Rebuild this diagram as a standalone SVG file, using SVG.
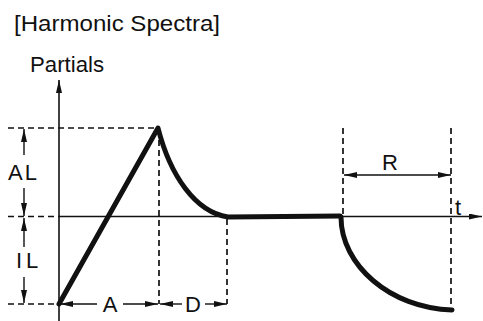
<svg xmlns="http://www.w3.org/2000/svg" width="483" height="321" viewBox="0 0 483 321">
<style>
.ax{stroke:#111;stroke-width:1.6;fill:none}
.da{stroke:#111;stroke-width:1.7;fill:none;stroke-dasharray:6 4}
.dim{stroke:#111;stroke-width:1.4;fill:none}
.cv{stroke:#111;stroke-width:5;fill:none;stroke-linecap:round;stroke-linejoin:round}
.tx{font-family:"Liberation Sans",Arial,sans-serif;font-size:22px;fill:#111}
</style>
<defs>
<marker id="ah" viewBox="0 0 13 6" refX="13" refY="3" markerWidth="13" markerHeight="6" markerUnits="userSpaceOnUse" orient="auto-start-reverse">
<path d="M0,0 L13,3 L0,6 Z" fill="#111"/>
</marker>
</defs>
<rect width="483" height="321" fill="#fff"/>
<g id="title"><text class="tx" x="14" y="31" textLength="206" lengthAdjust="spacingAndGlyphs">[Harmonic Spectra]</text></g>
<g id="ylabel"><text class="tx" x="30" y="72" textLength="74" lengthAdjust="spacingAndGlyphs">Partials</text></g>
<g id="connectors">
<line class="ax" x1="59" y1="321" x2="59" y2="80" marker-end="url(#ah)"/>
<line class="ax" x1="59" y1="216.5" x2="482" y2="216.5" marker-end="url(#ah)"/>
<line class="da" x1="8" y1="128" x2="158" y2="128"/>
<line class="da" x1="8" y1="216.5" x2="59" y2="216.5"/>
<line class="da" x1="8" y1="304" x2="59" y2="304"/>
<line class="da" x1="159" y1="130" x2="159" y2="304"/>
<line class="da" x1="227" y1="219" x2="227" y2="304"/>
<line class="da" x1="343" y1="128" x2="343" y2="216"/>
<line class="da" x1="451" y1="128" x2="451" y2="312"/>
<line class="dim" x1="24" y1="155" x2="24" y2="129" marker-end="url(#ah)"/>
<line class="dim" x1="24" y1="188" x2="24" y2="216" marker-end="url(#ah)"/>
<line class="dim" x1="24" y1="247" x2="24" y2="218" marker-end="url(#ah)"/>
<line class="dim" x1="24" y1="277" x2="24" y2="303" marker-end="url(#ah)"/>
<line class="dim" x1="97" y1="304" x2="60" y2="304" marker-end="url(#ah)"/>
<line class="dim" x1="123" y1="304" x2="158" y2="304" marker-end="url(#ah)"/>
<line class="dim" x1="182" y1="304" x2="160" y2="304" marker-end="url(#ah)"/>
<line class="dim" x1="205" y1="304" x2="227" y2="304" marker-end="url(#ah)"/>
<line class="dim" x1="344" y1="175" x2="451" y2="175" marker-start="url(#ah)" marker-end="url(#ah)"/>
</g>
<g id="envelope">
<path class="cv" d="M59,304 L158,128 C170,175 195,212 228,217 L340,216"/>
<path class="cv" d="M341,217 C341,265 390,308 452,310"/>
</g>
<g id="labels">
<text class="tx" x="8" y="180" letter-spacing="2">AL</text>
<text class="tx" x="16" y="268" letter-spacing="4">IL</text>
<text class="tx" x="110" y="312" text-anchor="middle">A</text>
<text class="tx" x="193" y="312" text-anchor="middle">D</text>
<text class="tx" x="390" y="170" text-anchor="middle">R</text>
<text class="tx" x="455" y="215">t</text>
</g>
</svg>
